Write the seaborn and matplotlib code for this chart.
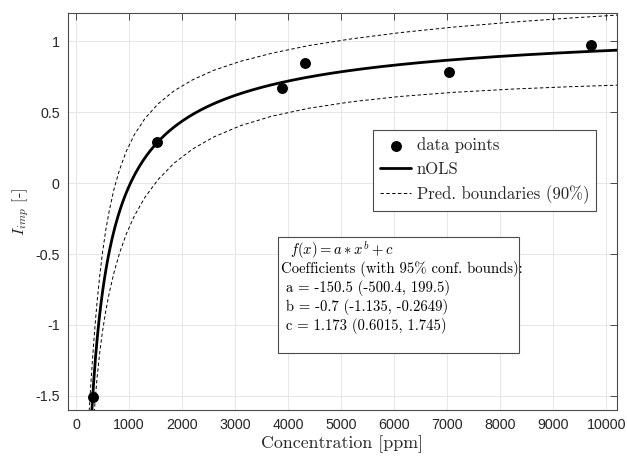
import numpy as np
import pandas as pd
import matplotlib
matplotlib.use("Agg")
import matplotlib.pyplot as plt
from matplotlib.patches import Rectangle
import seaborn as sns

# ---- data ----
conc_ppm = [315, 1525, 3887, 4326, 7038, 9718]
i_imp = [-1.507, 0.288, 0.668, 0.847, 0.781, 0.974]

# fitted model coefficients shown in the chart: f(x) = a*x^b + c
coef_a = -150.5
coef_b = -0.7
coef_c = 1.173

# prediction boundaries (90%)
band_x = [250, 265, 280, 300, 330, 360, 400, 450, 500, 560, 630, 720, 820, 950,
          1100, 1300, 1550, 1850, 2200, 2600, 3100, 3700, 4400, 5200, 6100,
          7100, 8200, 9300, 10200]
band_upper = [-1.607, -1.510, -1.423, -1.309, -1.149, -1.003, -0.830, -0.647,
              -0.491, -0.336, -0.190, -0.038, 0.093, 0.226, 0.341, 0.456, 0.560,
              0.651, 0.729, 0.796, 0.859, 0.917, 0.971, 1.018, 1.061, 1.100,
              1.135, 1.164, 1.185]
band_lower = [-2.355, -2.200, -2.059, -1.899, -1.701, -1.539, -1.364, -1.189,
              -1.047, -0.906, -0.770, -0.626, -0.495, -0.358, -0.232, -0.100,
              0.026, 0.141, 0.241, 0.326, 0.405, 0.473, 0.529, 0.574, 0.611,
              0.640, 0.663, 0.680, 0.691]

x_ticks = [0, 1000, 2000, 3000, 4000, 5000, 6000, 7000, 8000, 9000, 10000]
y_ticks = [-1.5, -1, -0.5, 0, 0.5, 1]
y_tick_labels = ["-1.5", "-1", "-0.5", "0", "0.5", "1"]

legend_labels = ["data points", "nOLS", "Pred. boundaries (90%)"]
box_lines = [r"$f(x) = a*x^b + c$",
             "Coefficients (with 95% conf. bounds):",
             " a = -150.5 (-500.4, 199.5)",
             " b = -0.7 (-1.135, -0.2649)",
             " c = 1.173 (0.6015, 1.745)"]

# ---- style ----
sns.set_style("white")
plt.rcParams["font.family"] = ["Liberation Sans", "DejaVu Sans"]
plt.rcParams["mathtext.fontset"] = "cm"
plt.rcParams["axes.unicode_minus"] = False
SERIF = ["cmr10", "DejaVu Serif"]
EDGE = "#4a4a4a"

# fit curve evaluated from the reported coefficients
curve_x = np.linspace(270, 10200, 600)
curve_df = pd.DataFrame({"x": curve_x, "y": coef_a * curve_x ** coef_b + coef_c})
band_df = pd.DataFrame({"x": band_x, "upper": band_upper, "lower": band_lower})
pts_df = pd.DataFrame({"x": conc_ppm, "y": i_imp})

fig = plt.figure(figsize=(6.27, 4.58), dpi=100)
ax = fig.add_axes([68 / 627, 1 - 410 / 458, 549 / 627, 397 / 458])

sns.scatterplot(data=pts_df, x="x", y="y", ax=ax, color="black", s=62,
                edgecolor="black", linewidth=0, zorder=5, label=legend_labels[0])
sns.lineplot(data=curve_df, x="x", y="y", ax=ax, color="black", lw=2.0,
             zorder=4, label=legend_labels[1], sort=False)
sns.lineplot(data=band_df, x="x", y="upper", ax=ax, color="black", lw=0.7,
             ls=(0, (3.5, 2.5)), zorder=3, label=legend_labels[2], sort=False)
sns.lineplot(data=band_df, x="x", y="lower", ax=ax, color="black", lw=0.7,
             ls=(0, (3.5, 2.5)), zorder=3, sort=False, legend=False)

ax.set_xlim(-150, 10200)
ax.set_ylim(-1.6, 1.2)
ax.set_xticks(x_ticks)
ax.set_xticklabels([str(t) for t in x_ticks])
ax.set_yticks(y_ticks)
ax.set_yticklabels(y_tick_labels)
ax.grid(True, color="#e6e6e6", lw=0.7)
ax.set_axisbelow(True)
for sp in ax.spines.values():
    sp.set_color(EDGE)
    sp.set_linewidth(0.8)
ax.tick_params(direction="in", length=5, width=0.7, color=EDGE,
               top=True, right=True, labelsize=10.3, labelcolor="#262626", pad=6)

ax.set_xlabel("Concentration [ppm]", fontfamily=SERIF, fontsize=12.9,
              color="#262626", labelpad=2)
ax.set_ylabel(r"$I_{imp}$ [-]", fontfamily=SERIF, fontsize=11.8,
              color="#262626", labelpad=3)

leg = ax.legend(loc="upper left", bbox_to_anchor=(0.556, 0.705),
                prop={"family": SERIF, "size": 12.0}, frameon=True,
                fancybox=False, edgecolor=EDGE, framealpha=1,
                handlelength=1.85, handletextpad=0.35, labelspacing=0.5,
                borderpad=0.42, borderaxespad=0)
leg.get_frame().set_linewidth(0.8)

# text box with fit information
ax.add_patch(Rectangle((0.3825, 0.1436), 0.439, 0.2922, transform=ax.transAxes,
                       facecolor="white", edgecolor=EDGE, lw=0.8, zorder=6))
ys = [(410 - p) / 397 for p in [250, 269, 288, 307, 326]]
xs = [(290 - 68) / 549, (281 - 68) / 549, (281 - 68) / 549,
      (281 - 68) / 549, (281 - 68) / 549]
for t, xx, yy in zip(box_lines, xs, ys):
    ax.text(xx, yy, t, transform=ax.transAxes, fontfamily=SERIF, fontsize=10.6,
            va="center", ha="left", color="black", zorder=7)

fig.savefig("out.png", dpi=100)
